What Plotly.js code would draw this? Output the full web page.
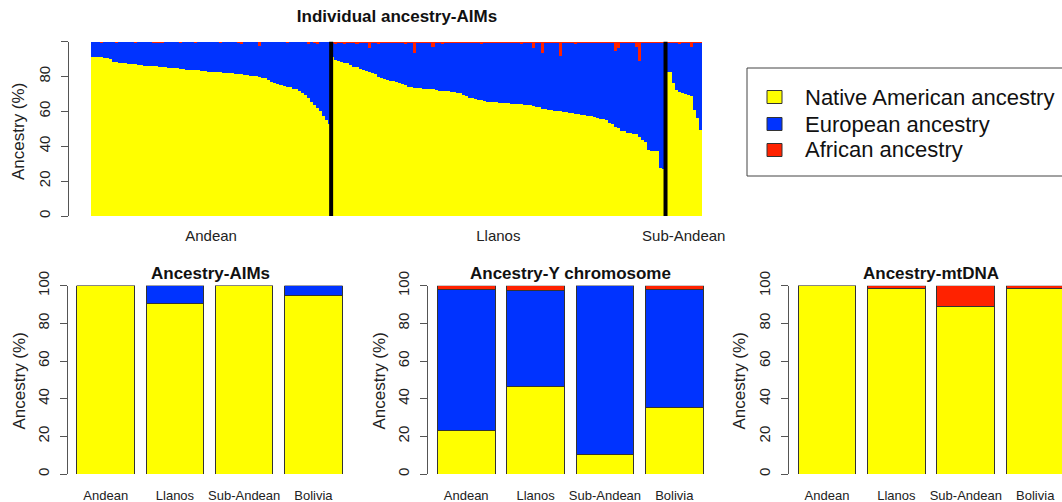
<!DOCTYPE html>
<html>
<head>
<meta charset="utf-8">
<script src="https://cdn.plot.ly/plotly-3.0.1.min.js"></script>
<style>html,body{margin:0;padding:0;background:#fff;}#chart{width:1062px;height:502px;}</style>
</head>
<body>
<div id="chart"></div>
<script>
// ---------- Individual ancestry (AIMs), % per individual ----------
const groupNames = ['Andean', 'Llanos', 'Sub-Andean'];

const andeanNative = [91.3,91.3,91.3,91.2,90.7,90.5,89.8,88.5,88.2,87.6,
  87.5,87.4,87.2,87.1,87.0,86.5,86.3,86.2,86.1,86.0,
  85.9,85.8,85.6,85.5,85.3,85.0,84.9,84.8,84.7,84.5,
  84.2,83.9,83.8,83.6,83.5,83.4,83.2,83.0,82.8,82.6,
  82.5,82.4,82.3,82.2,82.0,81.9,81.8,81.6,81.4,81.1,
  80.8,80.6,80.4,80.2,80.0,79.6,79.3,78.8,78.2,77.0,
  76.3,75.8,75.2,74.6,74.2,73.8,73.0,72.5,71.8,70.5,
  69.3,67.5,65.5,63.8,61.8,60.0,57.3,55.2,53.0];
const andeanAfrican = [0.4,0.5,0.3,0.6,0.4,0.5,0.3,0.4,0.6,0.5,
  0.4,0.3,0.5,0.4,0.6,0.5,0.4,0.3,0.5,0.4,
  0.8,0.9,0.7,0.8,0.4,0.5,0.3,0.4,0.5,0.6,
  0.4,0.5,0.3,0.4,0.6,0.5,0.4,0.5,0.3,0.4,
  0.5,0.4,0.6,0.5,0.4,0.3,0.5,0.4,0.6,1.2,
  0.5,0.4,0.3,0.5,0.4,2.6,0.5,0.4,0.3,0.5,
  0.4,0.3,0.5,0.4,0.6,0.5,0.4,0.3,0.5,0.4,
  0.5,1.5,0.4,0.6,1.5,0.4,0.5,0.3,0.4];

const llanosNative = [91.3,89.5,88.8,88.5,87.9,87.6,86.3,85.6,85.2,84.0,
  83.8,83.0,82.8,81.8,81.2,79.8,78.8,78.6,78.2,77.4,
  77.2,77.0,76.4,75.4,74.9,74.2,74.0,73.4,73.2,73.1,
  73.0,72.9,72.7,72.6,72.4,71.8,71.7,71.6,71.4,71.2,
  70.8,70.7,70.5,69.3,69.0,67.8,67.6,66.8,66.6,66.4,
  66.0,65.4,65.3,65.2,65.1,65.0,64.7,64.6,64.5,64.4,
  64.3,64.2,63.9,63.8,63.6,63.4,62.8,62.6,62.4,61.5,
  61.2,61.0,60.8,60.3,60.2,60.0,59.8,59.4,59.2,59.0,
  58.5,58.3,58.1,57.8,57.4,57.2,56.9,55.9,55.7,55.5,
  55.0,53.1,52.8,51.2,50.5,48.8,48.6,47.6,47.4,47.2,
  46.8,45.4,43.5,42.4,37.6,37.4,37.2,37.0,27.4,27.1];
const llanosAfrican = [1.0,1.2,0.6,0.8,1.4,1.0,0.7,1.1,1.6,0.9,
  1.0,0.8,4.0,1.0,0.7,1.2,0.9,0.8,1.1,1.0,
  0.6,1.0,0.9,0.8,1.2,0.7,1.0,6.4,1.0,0.8,
  1.1,0.9,0.7,3.0,1.0,0.8,1.2,0.9,0.6,1.0,
  0.8,1.0,0.7,1.1,0.9,0.8,1.0,0.6,1.0,1.2,
  0.9,0.7,1.0,0.8,1.0,1.1,0.7,0.9,0.8,1.0,
  1.0,0.7,1.2,0.9,0.8,1.0,4.0,1.0,0.7,6.5,
  0.9,1.0,0.8,1.1,1.0,8.5,0.9,0.7,1.0,0.8,
  1.2,1.0,0.8,0.9,1.1,0.7,1.0,1.0,0.8,0.9,
  1.0,0.8,1.0,5.5,3.5,0.9,1.1,0.8,1.0,1.0,
  3.0,11.0,1.0,0.8,1.0,0.9,0.7,1.0,0.8,1.1];

const subAndeanNative = [82.7,82.4,76.0,72.4,71.0,70.4,70.2,69.3,68.9,60.7,56.0,49.5];
const subAndeanAfrican = [0.8,1.0,0.6,0.9,1.2,0.7,1.0,0.8,3.0,0.9,0.7,1.0];

// ---------- Population ancestry summaries, % ----------
const regions = ['Andean', 'Llanos', 'Sub-Andean', 'Bolivia'];
const aimsNative   = [100, 90.3, 100, 94.7];
const aimsEuropean = [0, 9.7, 0, 5.3];
const aimsAfrican  = [0, 0, 0, 0];
const yNative   = [23.0, 46.7, 10.6, 35.2];
const yEuropean = [75.2, 50.6, 89.4, 63.0];
const yAfrican  = [1.8, 2.7, 0, 1.8];
const mtNative   = [100, 98.6, 88.9, 98.6];
const mtEuropean = [0, 0, 0, 0];
const mtAfrican  = [0, 1.4, 11.1, 1.4];

const seriesNames = ['Native American ancestry', 'European ancestry', 'African ancestry'];
const yTicks = [0, 20, 40, 60, 80, 100];

// ---------- build ----------
const W = 1062, H = 502;
const px = v => v / W;
const py = v => 1 - v / H;
const COL = {nat: '#FFFF00', eur: '#0033FF', afr: '#FF2200'};
const FONT = 'Liberation Sans, Arial, Helvetica, sans-serif';

const groupsNative = [andeanNative, llanosNative, subAndeanNative];
const groupsAfrican = [andeanAfrican, llanosAfrican, subAndeanAfrican];
const nativeAll = [].concat(...groupsNative);
const africanAll = [].concat(...groupsAfrican);
// ancestry proportions of each individual sum to 100 %
const europeanAll = nativeAll.map((v, i) => +(100 - v - africanAll[i]).toFixed(2));
const idx = nativeAll.map((_, i) => i);

const groupCenters = [], boundaries = [];
let start = 0;
groupsNative.forEach((g, k) => {
  groupCenters.push(start + (g.length - 1) / 2);
  start += g.length;
  if (k < groupsNative.length - 1) boundaries.push(start - 0.5);
});

const traces = [
  {type: 'bar', x: idx, y: nativeAll, name: seriesNames[0], marker: {color: COL.nat, line: {width: 0}}, xaxis: 'x', yaxis: 'y'},
  {type: 'bar', x: idx, y: europeanAll, name: seriesNames[1], marker: {color: COL.eur, line: {width: 0}}, xaxis: 'x', yaxis: 'y'},
  {type: 'bar', x: idx, y: africanAll, name: seriesNames[2], marker: {color: COL.afr, line: {width: 0}}, xaxis: 'x', yaxis: 'y'}
];

const panels = [
  {nat: aimsNative, eur: aimsEuropean, afr: aimsAfrican, ax: 2},
  {nat: yNative, eur: yEuropean, afr: yAfrican, ax: 3},
  {nat: mtNative, eur: mtEuropean, afr: mtAfrican, ax: 4}
];
panels.forEach(p => {
  [['nat', 0], ['eur', 1], ['afr', 2]].forEach(([key, s]) => {
    traces.push({
      type: 'bar', x: regions, y: p[key], name: seriesNames[s], width: 0.833,
      marker: {color: COL[key], line: {color: '#333', width: 1}},
      xaxis: 'x' + p.ax, yaxis: 'y' + p.ax, showlegend: false
    });
  });
});

function yAxis(domain, pos, labels) {
  return {
    domain: domain, range: [0, 100], anchor: 'free', position: pos,
    tickvals: yTicks, ticktext: labels, ticks: 'outside', ticklen: 7, tickwidth: 1,
    tickcolor: '#555', showline: true, linecolor: '#555', linewidth: 1,
    tickangle: -90, tickfont: {family: FONT, size: 15, color: '#222'},
    showgrid: false, zeroline: false, fixedrange: true, ticklabelstandoff: 5
  };
}
function xAxisBottom(domain, range, yName) {
  return {
    domain: domain, range: range, anchor: yName, type: 'category',
    showline: false, ticks: '', showgrid: false, zeroline: false,
    tickfont: {family: FONT, size: 13, color: '#222'}, ticklabelstandoff: 12
  };
}

const topDom = [py(216), py(41.5)];
const botDom = [py(474), py(285.7)];

const layout = {
  width: W, height: H, margin: {l: 0, r: 0, t: 0, b: 0, pad: 0},
  paper_bgcolor: '#fff', plot_bgcolor: 'rgba(0,0,0,0)',
  barmode: 'stack', bargap: 0, showlegend: false,
  font: {family: FONT, color: '#222'},
  title: {text: '<b>Individual ancestry-AIMs</b>', x: px(397), y: py(16), xanchor: 'center', yanchor: 'middle',
          font: {family: FONT, size: 17, color: '#111'}},
  xaxis: {domain: [px(91), px(702)], range: [-0.5, nativeAll.length - 0.5], anchor: 'y',
          tickvals: groupCenters, ticktext: groupNames, ticks: '', showline: false, showgrid: false,
          zeroline: false, tickfont: {family: FONT, size: 15, color: '#222'}, ticklabelstandoff: 9},
  yaxis: yAxis(topDom, px(68), ['0', '20', '40', '60', '80', '']),
  xaxis2: xAxisBottom([px(71.1), px(348)], [-0.5, 3.5], 'y2'),
  yaxis2: yAxis(botDom, px(67), yTicks.map(String)),
  xaxis3: xAxisBottom([px(431.5), px(709)], [-0.5, 3.5], 'y3'),
  yaxis3: yAxis(botDom, px(426.7), yTicks.map(String)),
  xaxis4: xAxisBottom([px(792.3), 1], [-0.5, 3.386], 'y4'),
  yaxis4: yAxis(botDom, px(788.3), yTicks.map(String)),
  shapes: [],
  annotations: []
};

boundaries.forEach(b => layout.shapes.push({type: 'line', xref: 'x', yref: 'y', x0: b, x1: b, y0: 0, y1: 100,
  line: {color: '#000', width: 4}}));

// legend box (drawn manually so it sits exactly like the reference)
layout.shapes.push({type: 'rect', xref: 'paper', yref: 'paper', x0: px(747), x1: px(1075), y0: py(176), y1: py(68),
  line: {color: '#444', width: 1}, fillcolor: 'rgba(0,0,0,0)'});
const legRows = [97, 124, 150];
[COL.nat, COL.eur, COL.afr].forEach((c, i) => {
  layout.shapes.push({type: 'rect', xref: 'paper', yref: 'paper', x0: px(767), x1: px(782),
    y0: py(legRows[i] + 6.5), y1: py(legRows[i] - 6.5), line: {color: '#333', width: 1}, fillcolor: c});
  layout.annotations.push({xref: 'paper', yref: 'paper', x: px(803), y: py(legRows[i]), xanchor: 'left', yanchor: 'middle',
    text: seriesNames[i], showarrow: false, font: {family: FONT, size: 22, color: '#111'}});
});

// panel titles
[['Ancestry-AIMs', 210], ['Ancestry-Y chromosome', 570], ['Ancestry-mtDNA', 931]].forEach(([t, x]) => {
  layout.annotations.push({xref: 'paper', yref: 'paper', x: px(x), y: py(273), xanchor: 'center', yanchor: 'middle',
    text: '<b>' + t + '</b>', showarrow: false, font: {family: FONT, size: 17, color: '#111'}});
});
// y-axis titles
[[18, 132], [18.5, 381], [378.5, 381], [738.5, 381]].forEach(([x, y]) => {
  layout.annotations.push({xref: 'paper', yref: 'paper', x: px(x), y: py(y), xanchor: 'center', yanchor: 'middle',
    text: 'Ancestry (%)', textangle: -90, showarrow: false, font: {family: FONT, size: 17, color: '#222'}});
});

Plotly.newPlot('chart', traces, layout, {staticPlot: true, displayModeBar: false});
</script>
</body>
</html>
